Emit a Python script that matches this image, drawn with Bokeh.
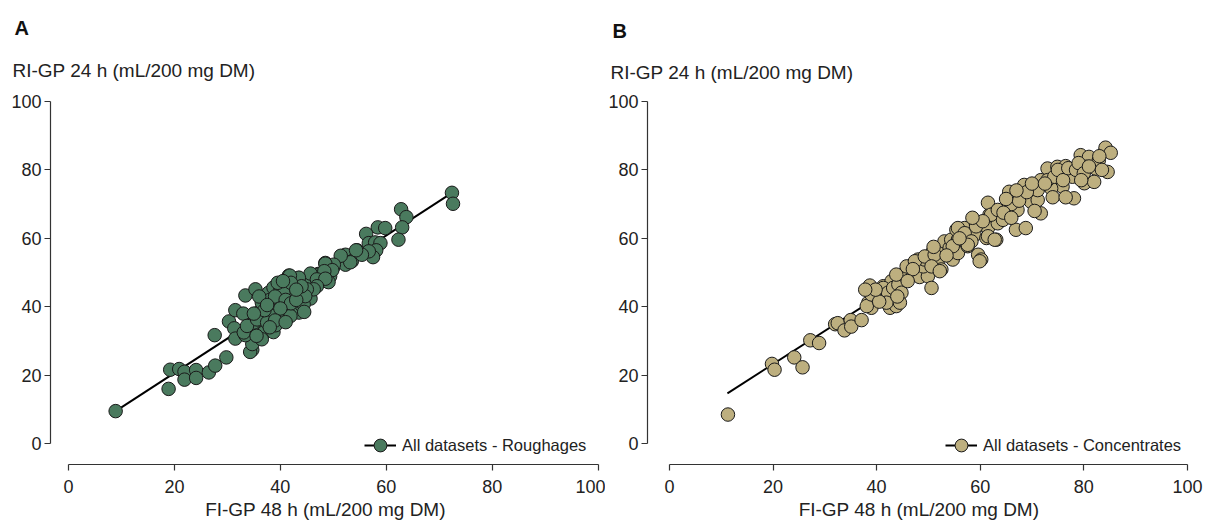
from bokeh.plotting import figure
from bokeh.layouts import row
from bokeh.models import Range1d, Title, Legend, LegendItem, ColumnDataSource
from bokeh.embed import file_html
from bokeh.resources import INLINE

FONT = "Liberation Sans"

# ---------------- data ----------------
rough_fi = [8.9, 18.9, 19.2, 20.9, 21.9, 21.9, 24.1, 24.1, 26.5, 27.7, 29.8, 27.6, 30.3, 31.5, 33.0,
            33.4, 35.3, 34.7, 34.3, 34.7, 31.3, 31.5, 33.4,
            36.1, 35.6, 36.9, 38.7, 39.1, 36.2, 36.5, 37.8, 38.7, 40.0, 41.6, 43.5, 41.9, 42.5, 43.8,
            40.0, 38.1, 39.7, 41.3, 42.5, 43.5, 37.8, 36.9, 40.0, 41.9, 44.1, 45.5, 45.7, 46.9, 47.2,
            48.5, 50.1, 49.4, 48.8, 52.3, 52.3, 53.5, 54.5, 45.9, 45.0, 40.6, 35.0, 33.1, 33.7, 35.6,
            38.7, 37.5,
            72.4, 72.6, 62.8, 63.8, 63.0, 62.3, 58.4, 59.8, 56.2, 56.7, 57.9, 58.9, 58.1, 57.5, 56.7,
            55.4, 54.3, 53.2, 51.4, 50.1, 48.5, 49.8, 49.1, 47.2, 45.7, 45.7, 44.4, 48.3, 45.7, 46.9,
            48.5, 46.9, 46.3, 45.0, 44.7, 43.5, 41.8,
            37.0, 38.0, 39.0, 41.0, 42.0, 40.0, 39.0, 41.0, 43.0, 44.0, 42.0, 39.5, 36.0, 35.0, 37.5,
            40.5, 43.0, 44.5, 38.0, 36.5, 35.5]
rough_ri = [9.5, 16.0, 21.6, 21.8, 21.0, 18.7, 21.5, 19.2, 20.8, 22.8, 25.2, 31.7, 35.7, 39.0, 38.0,
            43.3, 45.1, 27.4, 26.8, 29.1, 33.7, 30.7, 31.7,
            35.6, 33.4, 32.5, 32.6, 34.6, 38.8, 41.2, 44.1, 45.6, 45.6, 49.1, 48.4, 46.0, 43.6, 44.6,
            42.2, 40.3, 39.8, 40.3, 38.3, 38.3, 37.3, 37.8, 37.3, 37.3, 40.3, 43.0, 46.0, 46.5, 49.6,
            52.8, 51.8, 48.9, 47.5, 55.2, 52.3, 53.3, 56.5, 49.4, 44.1, 44.1, 35.4, 32.5, 34.4, 36.3,
            37.3, 35.4,
            73.3, 70.1, 68.5, 66.2, 63.2, 59.6, 63.2, 63.0, 61.3, 58.6, 58.8, 58.6, 56.5, 54.5, 56.2,
            55.2, 56.5, 53.0, 54.9, 52.3, 52.6, 50.7, 47.2, 49.4, 47.5, 42.4, 40.7, 50.4, 49.7, 48.0,
            48.2, 46.0, 45.1, 45.1, 43.1, 48.5, 49.1,
            39.0, 42.0, 43.0, 42.0, 41.0, 39.5, 36.0, 35.5, 42.0, 46.0, 47.0, 47.0, 43.0, 38.0, 40.5,
            47.5, 45.0, 38.5, 34.0, 30.5, 31.5]

conc_fi = [11.3, 19.8, 20.3, 24.1, 25.7, 27.2, 28.9, 32.0, 32.5, 33.8, 35.0, 35.1, 37.1,
           38.7, 39.4, 38.4, 39.0, 41.3, 42.9, 42.9, 41.9, 42.6, 43.8, 44.5,
           38.1, 39.0, 41.3, 42.2, 41.9, 43.2, 44.2, 44.8, 44.5, 46.1, 45.1, 47.1, 48.0, 48.3, 49.9,
           50.6, 49.0, 49.3, 50.6, 50.9, 51.9, 52.5, 52.2, 53.1, 54.1, 54.4, 54.7, 55.7, 55.7, 55.4,
           57.0, 57.6, 57.3, 58.9, 59.2, 59.6, 60.2, 61.2, 61.5, 61.8, 61.5, 62.8, 63.4, 63.1,
           43.8, 45.8, 47.4, 49.3, 51.2, 50.6, 52.2, 54.7, 55.7, 57.0, 59.2, 59.9, 61.5, 62.8, 62.1,
           63.4, 65.6, 65.6, 67.2, 68.5, 68.2, 69.8, 71.1, 71.7, 71.7, 73.0, 74.9, 76.5, 77.8, 79.4,
           81.0, 80.4, 82.3, 80.1, 82.0, 78.1, 75.9, 73.7, 84.6, 84.2, 82.9, 73.0, 74.3, 71.1, 66.9,
           68.8, 64.4, 58.3, 57.6, 84.2, 85.2,
           66.0, 67.5, 69.0, 70.0, 72.5, 74.0, 75.0, 76.0, 77.0, 78.5, 79.0, 80.0, 81.0, 83.0, 83.5,
           76.5, 79.5, 70.5, 64.5, 66.0, 67.0, 65.0, 60.5, 58.5, 56.0, 53.5, 51.0, 47.0, 46.0, 44.0,
           40.5, 39.8, 37.8]
conc_ri = [8.5, 23.3, 21.6, 25.2, 22.3, 30.2, 29.4, 34.9, 35.2, 33.1, 36.1, 34.2, 36.1,
           46.2, 43.4, 41.2, 39.7, 46.0, 47.5, 44.1, 42.2, 39.7, 40.2, 48.9,
           40.2, 43.6, 45.5, 44.1, 41.2, 45.5, 46.5, 44.1, 41.2, 51.6, 49.4, 49.4, 53.8, 48.7, 48.9,
           45.5, 51.8, 53.8, 54.3, 56.2, 53.8, 50.9, 56.7, 59.1, 57.2, 59.6, 53.8, 55.7, 59.6, 62.5,
           63.0, 57.7, 60.4, 61.0, 64.0, 55.2, 53.8, 60.1, 63.0, 66.9, 70.4, 67.3, 64.4, 59.6,
           49.4, 51.8, 53.3, 54.7, 55.2, 51.8, 50.4, 57.7, 63.0, 61.5, 63.5, 53.3, 60.6, 59.6, 66.9,
           68.3, 73.6, 69.3, 68.3, 75.6, 72.2, 70.7, 71.2, 67.3, 77.0, 80.4, 80.9, 81.1, 78.0, 84.3,
           83.8, 80.9, 80.4, 76.1, 76.5, 71.7, 75.1, 74.6, 79.4, 85.8, 82.8, 77.0, 78.0, 74.1, 62.5,
           63.0, 65.4, 59.1, 58.1, 86.5, 85.0,
           70.0, 71.0, 73.5, 76.0, 76.0, 72.0, 80.0, 77.0, 80.5, 80.0, 82.0, 79.0, 81.0, 84.0, 80.0,
           72.0, 77.0, 68.0, 67.5, 66.0, 74.0, 71.5, 65.0, 66.0, 60.0, 55.0, 57.5, 51.0, 47.5, 43.0,
           41.5, 45.0, 45.0]

rough_fit_x = [8.9, 72.4]
rough_fit_y = [9.5, 73.3]
conc_fit_x = [11.2, 84.5]
conc_fit_y = [14.7, 85.8]

ticks = [0, 20, 40, 60, 80, 100]
y_title = "RI-GP 24 h (mL/200 mg DM)"
x_title = "FI-GP 48 h (mL/200 mg DM)"
legend_labels = ["All datasets - Roughages", "All datasets - Concentrates"]
colors = ["#4A7A5E", "#BDAF7F"]


def panel(letter, fx, fy, lx, ly, color, label, width, left, frame_w, x_start, x_end,
          title_off, sub_standoff, letter_standoff, legend_x):
    p = figure(width=width, height=522, output_backend="svg", toolbar_location=None,
               x_range=Range1d(x_start, x_end), y_range=Range1d(-6.1, 101.45),
               min_border_left=left, min_border_right=width - left - frame_w,
               min_border_top=96, min_border_bottom=56)
    p.outline_line_color = None
    p.grid.visible = False
    p.background_fill_color = "white"
    p.border_fill_color = "white"

    src = ColumnDataSource(dict(x=fx, y=fy))
    lr = p.line(lx, ly, line_color="black", line_width=2)
    sr = p.scatter("x", "y", source=src, size=13.5, fill_color=color,
                   line_color="#1a1a1a", line_width=1)

    for ax in (p.xaxis[0], p.yaxis[0]):
        ax.bounds = (0, 100)
        ax.ticker = ticks
        ax.axis_line_color = "#333333"
        ax.axis_line_width = 1.2
        ax.major_tick_line_color = "#333333"
        ax.major_tick_line_width = 1.2
        ax.major_tick_out = 6
        ax.major_tick_in = 0
        ax.minor_tick_line_color = None
        ax.major_label_text_font = FONT
        ax.major_label_text_font_size = "18px"
        ax.major_label_text_color = "#222222"
    p.yaxis.major_label_standoff = 3
    p.xaxis.major_label_standoff = 9
    p.xaxis.axis_label = x_title
    p.xaxis.axis_label_text_font = FONT
    p.xaxis.axis_label_text_font_size = "19px"
    p.xaxis.axis_label_text_font_style = "normal"
    p.xaxis.axis_label_text_color = "#222222"
    p.xaxis.axis_label_standoff = 3

    legend = Legend(items=[LegendItem(label=label, renderers=[lr, sr])],
                    location=(legend_x, 3), border_line_color=None,
                    background_fill_alpha=0, label_text_font=FONT,
                    label_text_font_size="16.5px", label_text_color="#222222",
                    margin=0, padding=2, glyph_width=32, glyph_height=32,
                    label_standoff=6, label_height=32)
    p.add_layout(legend)

    p.add_layout(Title(text=y_title, align="left", offset=title_off, standoff=sub_standoff,
                       text_font=FONT, text_font_size="19px", text_font_style="normal",
                       text_color="#222222"), "above")
    p.add_layout(Title(text=letter, align="left", offset=title_off + 2, standoff=letter_standoff,
                       text_font=FONT, text_font_size="20px", text_font_style="bold",
                       text_color="#111111"), "above")
    return p


pa = panel("A", rough_fi, rough_ri, rough_fit_x, rough_fit_y, colors[0], legend_labels[0],
           605, 50, 550, -3.4, 100.45, -38, 31, 8, 314)
pb = panel("B", conc_fi, conc_ri, conc_fit_x, conc_fit_y, colors[1], legend_labels[1],
           605, 40, 545, -4.23, 100.6, -37, 27, 10, 298)

layout = row(pa, pb)
open("out.html", "w").write(file_html(layout, INLINE))
